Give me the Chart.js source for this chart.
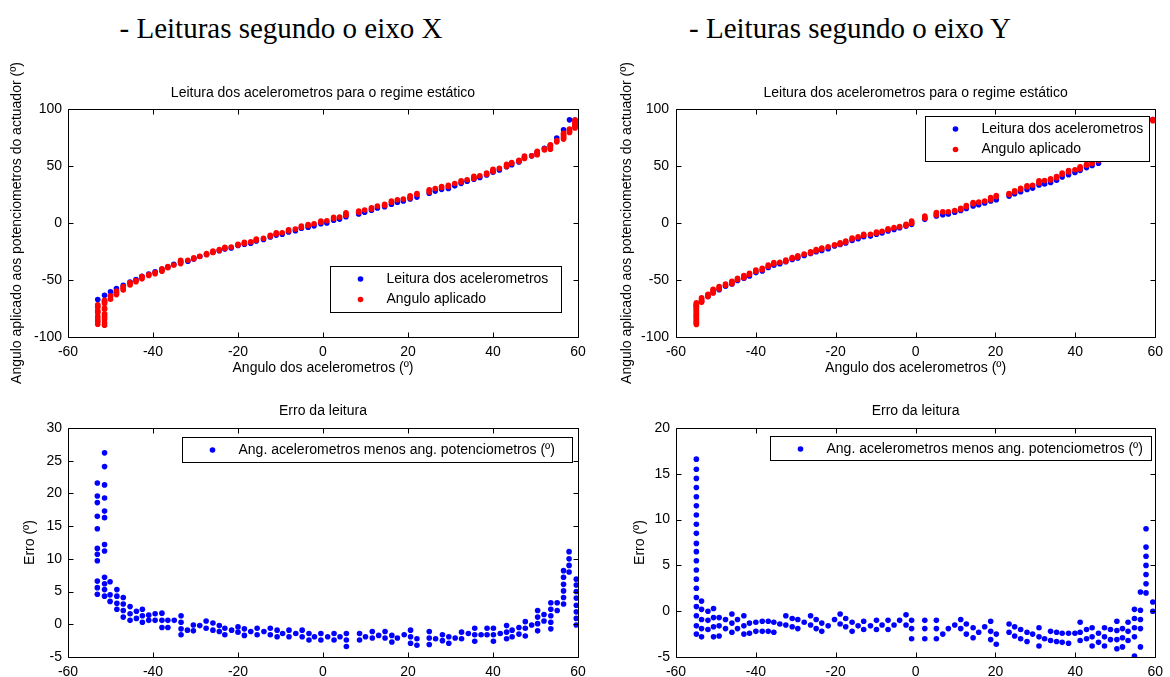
<!DOCTYPE html>
<html>
<head>
<meta charset="utf-8">
<script src="https://cdn.jsdelivr.net/npm/chart.js@4.4.1/dist/chart.umd.min.js"></script>
<style>
  body { margin: 0; background: #fff; width: 1170px; height: 677px; position: relative; overflow: hidden; }
  .big { position: absolute; top: 14px; line-height: 29px; font-family: "Liberation Serif", "Times New Roman", serif; font-size: 29px; color: #000; white-space: nowrap; transform: translateX(-50%); }
  canvas { position: absolute; }
</style>
</head>
<body>
<div class="big" style="left:281px">- Leituras segundo o eixo X</div>
<div class="big" style="left:850px">- Leituras segundo o eixo Y</div>
<canvas id="topX" width="600" height="340" style="left:0;top:50px"></canvas>
<canvas id="topY" width="570" height="340" style="left:600px;top:50px"></canvas>
<canvas id="errXc" width="600" height="287" style="left:0;top:390px"></canvas>
<canvas id="errYc" width="570" height="287" style="left:600px;top:390px"></canvas>
<script>
// --- eixo X: angulo dos acelerometros, leitura (azul) e angulo aplicado (vermelho)
const angX = [-53.0,-51.4,-50.0,-48.6,-47.0,-45.4,-44.0,-42.6,-41.0,-39.5,
  -37.9,-36.5,-35.1,-33.5,-31.8,-30.4,-29.0,-27.4,-25.9,-24.4,
  -23.1,-21.6,-20.0,-18.5,-17.0,-15.7,-14.0,-12.4,-11.0,-9.6,
  -8.1,-6.5,-5.1,-3.5,-2.1,-0.5,0.9,2.5,3.9,5.4,
  8.4,9.8,11.4,12.8,14.5,16.1,17.5,18.9,20.5,22.1,
  25.0,26.4,27.9,29.5,31.0,32.5,33.9,35.5,36.9,38.5,
  40.0,41.5,43.2,44.4,46.1,47.4,49.1,50.4,52.1,53.5,
  55.0,56.6,58.0,59.3];
const leituraX = [-67.2,-63.4,-60.4,-57.5,-54.6,-51.7,-49.6,-46.7,-44.7,-42.9,
  -40.6,-38.6,-36.3,-34.3,-33.6,-31.5,-29.4,-27.4,-25.6,-24.3,
  -22.9,-21.9,-19.8,-18.6,-17.7,-15.7,-14.5,-12.3,-10.6,-9.9,
  -7.8,-6.7,-4.6,-3.7,-2.5,-0.7,0.1,2.5,3.4,5.5,
  8.0,9.5,11.2,13.2,14.2,16.5,18.3,19.4,21.0,22.7,
  26.1,28.0,29.5,30.2,32.6,34.8,36.6,38.4,39.9,42.2,
  44.5,46.5,49.3,51.2,53.6,57.0,58.9,62.0,65.6,68.0,
  74.5,81.8,90.5,90.3];
const aplicadoX = [
  [-71.8,-72.8,-73.8,-76.9,-77.9,-78.8,-81.8,-83.7,-85.8,-86.8,-88.8],
  [-67.7,-68.7,-69.6,-70.6,-74.6,-75.6,-79.7,-80.7,-82.7,-84.7,-87.5,-89.6],
  [-63.9,-64.9,-66.9],[-59.8,-60.8,-61.8,-62.8],[-55.7,-56.7,-57.7,-58.7],
  [-52.3,-53.3,-54.4],[-50.5,-51.6],[-47.0,-48.0,-49.0],[-45.3,-46.1],[-43.5,-44.5],
  [-40.1,-41.2,-42.3],[-38.1,-39.2],[-36.9],[-32.7,-33.6,-34.6,-35.6],[-32.7],
  [-30.5,-31.4],[-29.2],[-26.8,-27.9],[-24.7,-25.8],[-23.2,-24.1],
  [-21.3,-22.3],[-21.0],[-18.6,-19.4],[-16.9,-17.9],[-16.6],
  [-14.1,-15.1],[-13.4],[-10.7,-11.7],[-8.7,-9.7],[-8.5],
  [-5.9,-6.9],[-5.3],[-2.7,-3.7],[-1.3,-2.3],[-0.6],
  [0.7,1.7],[2.0],[3.9,4.9],[5.3],[6.9,7.9,8.9],
  [9.4,10.4],[11.4],[12.3,13.3],[14.9],[15.3,16.3],
  [18.2,19.2],[20.4],[21.0],[21.9,22.9,23.9],[24.9,25.9],
  [27.2,28.2,29.2],[30.2],[31.1,32.0],[32.1,33.1],[34.7],
  [36.0,37.0],[38.0],[39.0,40.0,41.0],[41.5],[42.8,43.8],
  [45.1,46.1,47.1],[47.9],[49.5,50.5,51.5],[52.1,53.1],[54.1,55.1],
  [56.6,57.6,58.8],[59.0],[59.9,60.9,61.9,63.0],[64.1,65.1],[64.7,65.7,66.7,67.7,68.7],
  [71.2,72.4],[73.6,74.6,75.6,76.6,77.7,78.7],[79.4,80.5,81.5,82.5],
  [83.4,84.3,85.3,86.3,87.4,88.4,89.4,90.4]
];

// --- eixo Y
const angY = [-54.9,-53.6,-52.0,-50.7,-49.2,-47.6,-46.0,-44.6,-43.0,-41.6,
  -40.0,-38.4,-36.9,-35.5,-34.0,-32.5,-30.9,-29.5,-27.9,-26.3,
  -24.9,-23.5,-21.9,-20.3,-18.9,-17.5,-15.9,-14.4,-13.0,-11.3,
  -9.8,-8.4,-6.9,-5.4,-4.0,-2.4,-1.0,2.3,5.2,6.8,
  8.2,9.8,11.3,12.7,14.4,15.8,17.3,18.8,20.2,23.4,
  24.8,26.3,27.9,29.3,30.9,32.3,33.8,35.3,36.7,38.3,
  39.9,41.2,42.8,44.2,45.8,59.4];
const leituraY = [-72.5,-68.5,-64.5,-61.0,-58.5,-55.5,-53.5,-50.5,-48.5,-46.5,
  -43.5,-42.0,-39.0,-37.0,-35.8,-34.0,-32.0,-30.7,-28.5,-26.8,
  -25.2,-24.1,-22.5,-20.1,-18.8,-17.5,-15.3,-13.8,-12.0,-11.5,
  -9.9,-8.8,-7.0,-5.6,-4.2,-2.7,-1.2,3.2,6.1,7.3,
  8.0,9.5,11.0,12.8,15.0,16.0,17.5,19.3,20.5,23.6,
  25.6,27.4,29.4,30.6,33.3,34.2,35.5,37.5,40.4,42.4,
  44.3,46.2,48.6,50.4,52.5,90.8];
const aplicadoY = [
  [-70.0,-71.0,-72.0,-73.0,-74.0,-75.0,-76.0,-77.0,-78.0,-79.0,-80.0,-81.0,-82.0,-83.0,-84.0,-85.0,-86.0,-87.0,-88.0,-89.1],
  [-69.6,-68.7,-67.6,-66.6,-65.7],[-64.5,-63.5,-62.5],[-61.3,-60.3,-59.3,-58.2],[-57.8,-56.9,-55.8],
  [-54.6,-53.6],[-53.2,-52.2,-51.2],[-49.6,-48.6],[-48.0,-46.9,-46.0],[-45.2,-44.1],
  [-42.3,-41.3],[-40.9,-39.8],[-37.9,-36.8],[-35.8,-34.7],[-34.4],
  [-33.5,-32.5],[-31.2,-30.3],[-29.8,-28.8],[-27.3],[-26.3,-25.3],
  [-24.3,-23.3],[-22.8,-21.9],[-20.9],[-19.2],[-18.5,-17.4],
  [-16.7,-15.8],[-14.1,-13.1],[-12.2],[-10.9,-10.0],[-9.9],
  [-8.9,-7.9],[-7.3],[-6.0,-5.0],[-4.1],[-3.2],
  [-2.3,-1.2],[-0.2,0.7,1.8],[4.2,5.1,6.2],[7.1,8.0,9.1],[9.8],
  [9.9],[11.0],[11.9,12.9],[14.2,15.3],[16.8,17.9],
  [18.3],[19.2],[20.4,21.5,22.4],[23.0,24.1],[25.0,25.9],
  [27.3,28.3],[29.4,30.4],[31.7,32.7],[33.1],[35.1,36.1,37.1],
  [37.2],[37.7,38.7],[39.8,40.8],[42.8,43.8],[44.8,45.9],
  [46.7],[47.4,48.5,49.4],[50.6,51.6],[52.2,53.2,54.2],[54.9,55.9],
  [89.8,90.8]
];

// --- erro da leitura (acelerometros menos potenciometros)
const errPosX = [-53.1,-51.4,-50.1,-48.5,-47.0,-45.4,-43.9,-42.5,-41.0,-39.5,
  -37.9,-36.5,-35.0,-33.4,-31.9,-30.5,-29.0,-27.5,-25.9,-24.4,
  -23.1,-21.5,-20.0,-18.5,-17.0,-15.5,-13.9,-12.4,-10.8,-9.5,
  -8.0,-6.4,-4.9,-3.3,-2.0,-0.5,1.1,2.6,4.0,5.5,
  8.6,10.0,11.6,13.1,14.6,16.2,17.5,19.1,20.6,22.1,
  25.0,26.5,28.1,29.6,31.1,32.6,34.2,35.7,37.2,38.6,
  40.1,41.7,43.2,44.5,46.1,47.6,49.1,50.5,52.0,53.6,
  55.1,56.6,57.9,59.6];
const errX = [
  [21.6,19.6,18.6,16.5,14.6,11.6,10.7,9.7,6.6,5.6,4.6],
  [26.2,24.1,21.3,19.3,17.3,16.3,12.2,11.2,7.2,6.2,5.3,4.3],
  [6.5,4.5,3.5],[5.3,4.3,3.2,2.3],[4.1,3.1,2.1,1.1],[2.7,1.6,0.6],[2.0,0.9],[2.3,1.3,0.3],[1.4,0.6],[1.6,0.6],
  [1.7,0.6,-0.5],[0.6,-0.5],[0.6],[1.3,0.3,-0.7,-1.6],[-0.9],[-0.1,-1.0],[-0.2],[0.5,-0.6],[0.2,-0.9],[-0.2,-1.1],
  [-0.6,-1.6],[-0.9],[-0.4,-1.2],[-0.7,-1.7],[-1.1],[-0.6,-1.6],[-1.1],[-0.6,-1.6],[-0.9,-1.9],[-1.4],
  [-0.9,-1.9],[-1.4],[-0.9,-1.9],[-1.4,-2.4],[-1.9],[-1.4,-2.4],[-1.9],[-1.4,-2.4],[-1.9],[-1.4,-2.4,-3.4],
  [-1.4,-2.4],[-1.9],[-1.1,-2.1],[-1.7],[-1.1,-2.1],[-1.7,-2.7],[-2.1],[-1.6],[-0.9,-1.9,-2.9],[-2.2,-3.2],
  [-1.1,-2.1,-3.1],[-2.2],[-1.6,-2.5],[-1.9,-2.9],[-2.1],[-1.2,-2.2],[-1.4],[-0.6,-1.6,-2.6],[-1.6],[-0.6,-1.6],
  [-0.6,-1.6,-2.6],[-1.4],[-0.2,-1.2,-2.2],[-0.9,-1.9],[-0.5,-1.5],[0.4,-0.6,-1.8],[-0.1],[2.1,1.1,0.1,-1.0],[1.5,0.5],[3.3,2.3,1.3,0.3,-0.7],
  [3.3,2.1],[8.2,7.2,6.1,5.1,4.1,3.1],[11.1,10.0,9.0,8.0],[6.9,6.0,5.0,4.0,2.9,1.9,0.9,-0.1]
];
const errPosY = [-54.9,-53.6,-52.0,-50.6,-49.2,-47.6,-46.0,-44.6,-43.0,-41.6,
  -40.0,-38.4,-36.9,-35.5,-34.0,-32.5,-30.9,-29.5,-27.9,-26.3,
  -24.9,-23.5,-21.9,-20.3,-18.9,-17.5,-15.9,-14.4,-13.0,-11.3,
  -9.8,-8.4,-6.9,-5.4,-4.0,-2.4,-1.0,2.3,5.2,6.8,
  8.2,9.8,11.3,12.7,14.4,15.8,17.3,18.8,20.2,23.4,
  24.8,26.3,27.9,29.3,30.9,32.3,33.8,35.3,36.7,38.3,
  39.9,41.2,42.8,44.2,45.8,47.3,48.8,50.4,51.8,53.2,
  54.8,56.3,57.7,59.4];
const errY = [
  [16.6,15.5,14.5,13.5,12.5,11.5,10.5,9.5,8.5,7.4,6.5,5.5,4.5,3.5,2.5,1.5,0.5,-0.5,-1.6,-2.5],
  [1.1,0.2,-0.9,-1.9,-2.8],[0.0,-1.0,-2.0],[0.3,-0.7,-1.7,-2.8],[-0.7,-1.6,-2.7],[-0.9,-1.9],[-0.3,-1.3,-2.3],[-0.9,-1.9],[-0.5,-1.6,-2.5],[-1.3,-2.4],
  [-1.2,-2.2],[-1.1,-2.2],[-1.1,-2.2],[-1.2,-2.3],[-1.4],[-0.5,-1.5],[-0.8,-1.7],[-0.9,-1.9],[-1.2],[-0.5,-1.5],
  [-0.9,-1.9],[-1.3,-2.2],[-1.6],[-0.9],[-0.3,-1.4],[-0.8,-1.7],[-1.2,-2.2],[-1.6],[-1.1,-2.0],[-1.6],
  [-1.0,-2.0],[-1.5],[-1.0,-2.0],[-1.5],[-1.0],[-0.4,-1.5],[-1.0,-1.9,-3.0],[-1.0,-1.9,-3.0],[-1.0,-1.9,-3.0],[-2.5],
  [-1.9],[-1.5],[-0.9,-1.9],[-1.4,-2.5],[-1.8,-2.9],[-2.3],[-1.7],[-1.1,-2.2,-3.1],[-2.5,-3.6],[-1.4,-2.3],
  [-1.7,-2.7],[-2.0,-3.0],[-2.3,-3.3],[-2.5],[-1.8,-2.8,-3.8],[-3.0],[-2.2,-3.2],[-2.3,-3.3],[-2.4,-3.4],[-2.4,-3.5],
  [-2.4],[-1.2,-2.3,-3.2],[-2.0,-3.0],[-1.8,-2.8,-3.8],[-2.4,-3.4],[-1.8,-2.8,-3.8],[-2.0,-3.1],[-1.1,-2.1,-3.1,-4.1],[-1.9,-2.9,-3.9],[-1.2,-2.2,-3.2],
  [0.2,-0.8,-1.8,-2.8,-4.9],[2.1,0.1,-0.9,-1.9,-3.9],[9.0,7.0,6.0,5.0,4.0,3.0,2.0],[1.0,0.0]
];

const BLUE = '#0000ff', RED = '#ff0000';

Chart.defaults.font.family = '"Liberation Sans", Arial, sans-serif';
Chart.defaults.font.size = 14;
Chart.defaults.color = '#000';

function pairs(xs, ys) { return xs.map((x, i) => ({ x: x, y: ys[i] })); }
function stacks(xs, lists) {
  const pts = [];
  xs.forEach((x, i) => lists[i].forEach(v => pts.push({ x: x, y: v })));
  return pts;
}

// caixa, marcas para dentro nos 4 lados e legenda com fundo branco (estilo matlab)
const matlabFrame = {
  id: 'matlabFrame',
  afterDraw(chart, args, opts) {
    const { ctx, chartArea: a, scales: { x, y } } = chart;
    const L = Math.round(a.left) + 0.5, R = Math.round(a.right) + 0.5;
    const T = Math.round(a.top) + 0.5, B = Math.round(a.bottom) + 0.5;
    ctx.save();
    ctx.strokeStyle = '#000';
    ctx.lineWidth = 1;
    ctx.beginPath();
    ctx.rect(L, T, R - L, B - T);
    x.ticks.forEach(t => {
      const p = Math.round(x.getPixelForValue(t.value)) + 0.5;
      ctx.moveTo(p, T); ctx.lineTo(p, T + 5);
      ctx.moveTo(p, B); ctx.lineTo(p, B - 5);
    });
    y.ticks.forEach(t => {
      const p = Math.round(y.getPixelForValue(t.value)) + 0.5;
      ctx.moveTo(L, p); ctx.lineTo(L + 5, p);
      ctx.moveTo(R, p); ctx.lineTo(R - 5, p);
    });
    ctx.stroke();

    const lg = opts.box;
    if (lg) {
      const bx = Math.round(a.right - lg.right - lg.width) + 0.5;
      const by = Math.round(lg.top != null ? a.top + lg.top : a.bottom - lg.bottom - lg.height) + 0.5;
      ctx.fillStyle = '#fff';
      ctx.fillRect(bx, by, lg.width, lg.height);
      ctx.strokeRect(bx, by, lg.width, lg.height);
      ctx.font = '14px "Liberation Sans", Arial, sans-serif';
      ctx.textBaseline = 'middle';
      const items = chart.data.datasets.slice().sort((p, q) => q.order - p.order);
      items.forEach((ds, i) => {
        const yy = by + 12.5 + 20.5 * i;
        ctx.fillStyle = ds.backgroundColor;
        ctx.beginPath();
        ctx.arc(bx + 30, yy, 2.8, 0, Math.PI * 2);
        ctx.fill();
        ctx.fillStyle = '#000';
        ctx.fillText(ds.label, bx + 56, yy);
      });
    }
    ctx.restore();
  }
};

function plot(id, c) {
  return new Chart(document.getElementById(id), {
    type: 'scatter',
    data: {
      datasets: c.series.map(s => ({
        label: s.label,
        data: s.data,
        order: s.order,
        backgroundColor: s.color,
        borderColor: s.color,
        borderWidth: 0,
        pointStyle: 'circle',
        pointRadius: 2.8,
        pointHoverRadius: 2.8
      }))
    },
    options: {
      responsive: false,
      animation: false,
      events: [],
      layout: { padding: { top: 0, right: c.padRight, bottom: 0, left: 0 } },
      plugins: {
        legend: { display: false },
        tooltip: { enabled: false },
        title: {
          display: true, text: c.title, fullSize: false,
          font: { size: 14, weight: 'normal' }, color: '#000',
          padding: { top: c.titlePad[0], bottom: c.titlePad[1] }
        },
        matlabFrame: { box: c.box }
      },
      scales: {
        x: {
          type: 'linear', min: -60, max: 60,
          ticks: { stepSize: 20, padding: 7, maxRotation: 0, autoSkip: false },
          grid: { display: false, drawTicks: false },
          border: { display: false },
          title: { display: !!c.xTitle, text: c.xTitle, padding: { top: 0, bottom: 13.6 } },
          afterFit: s => { s.height = c.xHeight; }
        },
        y: {
          type: 'linear', min: c.yMin, max: c.yMax,
          ticks: { stepSize: c.yStep, padding: c.yTickPad, autoSkip: false },
          grid: { display: false, drawTicks: false },
          border: { display: false },
          title: { display: true, text: c.yTitle, padding: { top: c.yTitlePad, bottom: 0 } },
          afterFit: s => { s.width = c.yWidth; }
        }
      }
    },
    plugins: [matlabFrame]
  });
}

const tituloTopo = 'Leitura dos acelerometros para o regime estático';
const tituloY = 'Angulo aplicado aos potenciometros do actuador (º)';
const tituloX = 'Angulo dos acelerometros (º)';
const tituloErro = 'Erro da leitura';
const legendaErro = 'Ang. acelerometros menos ang. potenciometros (º)';

plot('topX', {
  title: tituloTopo, titlePad: [34.6, 7.6], xTitle: tituloX, yTitle: tituloY,
  yMin: -100, yMax: 100, yStep: 50, yWidth: 68, yTickPad: 6, yTitlePad: 8.6,
  xHeight: 53, padRight: 22,
  box: { right: 17, bottom: 25, width: 231, height: 46 },
  series: [
    { label: 'Leitura dos acelerometros', data: pairs(angX, leituraX), color: BLUE, order: 2 },
    { label: 'Angulo aplicado', data: stacks(angX, aplicadoX), color: RED, order: 1 }
  ]
});

plot('topY', {
  title: tituloTopo, titlePad: [34.6, 7.6], xTitle: tituloX, yTitle: tituloY,
  yMin: -100, yMax: 100, yStep: 50, yWidth: 76, yTickPad: 7, yTitlePad: 18.6,
  xHeight: 53, padRight: 10,
  box: { right: 6, top: 7, width: 224, height: 45 },
  series: [
    { label: 'Leitura dos acelerometros', data: pairs(angY, leituraY), color: BLUE, order: 2 },
    { label: 'Angulo aplicado', data: stacks(angY, aplicadoY), color: RED, order: 1 }
  ]
});

plot('errXc', {
  title: tituloErro, titlePad: [12.6, 8.6], xTitle: '', yTitle: 'Erro (º)',
  yMin: -5, yMax: 30, yStep: 5, yWidth: 68, yTickPad: 6, yTitlePad: 22,
  xHeight: 20, padRight: 22,
  box: { right: 6, top: 9, width: 390, height: 25 },
  series: [
    { label: legendaErro, data: stacks(errPosX, errX), color: BLUE, order: 1 }
  ]
});

plot('errYc', {
  title: tituloErro, titlePad: [12.6, 8.6], xTitle: '', yTitle: 'Erro (º)',
  yMin: -5, yMax: 20, yStep: 5, yWidth: 76, yTickPad: 6, yTitlePad: 32,
  xHeight: 20, padRight: 10,
  box: { right: 4, top: 8, width: 381, height: 24 },
  series: [
    { label: legendaErro, data: stacks(errPosY, errY), color: BLUE, order: 1 }
  ]
});
</script>
</body>
</html>
